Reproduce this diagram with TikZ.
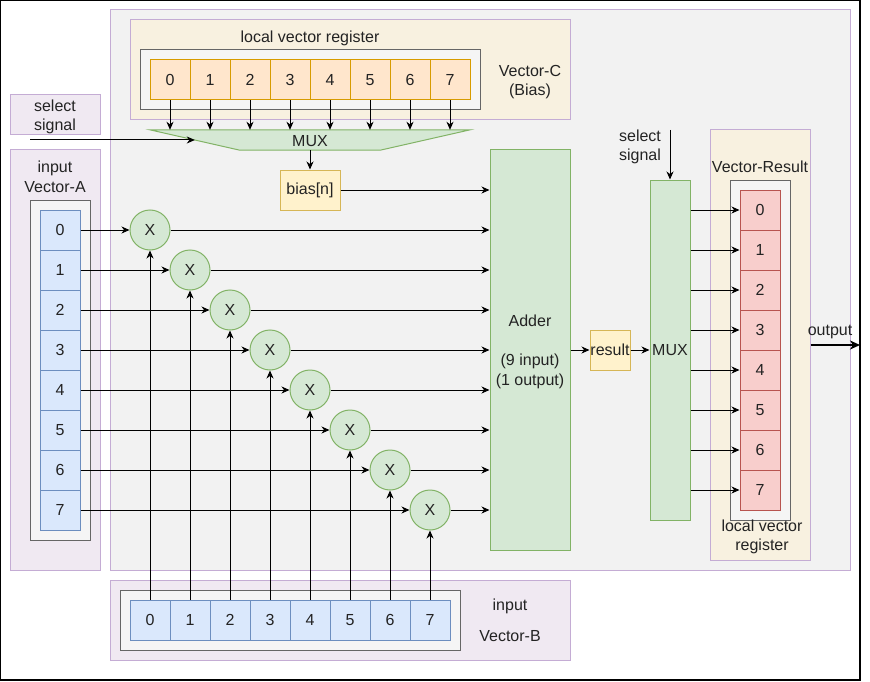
\documentclass[tikz,border=0pt]{standalone}
\usepackage{fontspec}
\setmainfont{Liberation Sans}
\usetikzlibrary{arrows.meta}
\definecolor{txt}{RGB}{35,35,35}
\definecolor{contfill}{RGB}{242,242,242}
\definecolor{purp}{RGB}{196,172,212}
\definecolor{purpfill}{RGB}{240,233,242}
\definecolor{cream}{RGB}{248,241,224}
\definecolor{greyfill}{RGB}{245,245,245}
\definecolor{greyline}{RGB}{102,102,102}
\definecolor{orfill}{RGB}{255,230,204}
\definecolor{orline}{RGB}{215,155,0}
\definecolor{bluefill}{RGB}{218,232,252}
\definecolor{blueline}{RGB}{108,142,191}
\definecolor{grfill}{RGB}{213,232,212}
\definecolor{grline}{RGB}{130,179,102}
\definecolor{yelfill}{RGB}{255,242,204}
\definecolor{yelline}{RGB}{214,182,86}
\definecolor{redfill}{RGB}{248,206,204}
\definecolor{redline}{RGB}{184,84,80}
\tikzset{
  every node/.style={font=\fontsize{16}{19.5}\selectfont, text=txt, inner sep=0pt},
  box/.style={rectangle, line width=1pt},
  purpbox/.style={box, draw=purp, fill=purpfill},
  creambox/.style={box, draw=purp, fill=cream},
  greybox/.style={box, draw=greyline, fill=greyfill},
  ocell/.style={box, draw=orline, fill=orfill, minimum width=40, minimum height=40},
  bcell/.style={box, draw=blueline, fill=bluefill, minimum width=40, minimum height=40},
  rcell/.style={box, draw=redline, fill=redfill, minimum width=40, minimum height=40},
  greenbox/.style={box, draw=grline, fill=grfill},
  yelbox/.style={box, draw=yelline, fill=yelfill},
  mul/.style={circle, draw=grline, fill=grfill, line width=1pt, minimum size=40},
  arr/.style={line width=1pt, -{Stealth[length=8pt,width=7pt,inset=2.5pt]}},
}
\begin{document}
\begin{tikzpicture}[x=1pt,y=-1pt]
\useasboundingbox (0,0) rectangle (870,682);
\draw[line width=2pt] (0,0) rectangle (860,680);
% main container
\node[box, draw=purp, fill=contfill, minimum width=740, minimum height=560] (main) at (480,290) {};
% select signal (left)
\node[purpbox, minimum width=90, minimum height=40] (selbox) at (55,115) {};
\node[align=center] (sellab) at (55,117) {select\\signal};
% Vector-C
\node[creambox, minimum width=440, minimum height=100] (vc) at (350,70) {};
\node[greybox, minimum width=340, minimum height=60] (vcin) at (310,80) {};
\node (lvr) at (310,38) {local vector register};
\node[align=center] (vclab) at (530,82) {Vector-C\\(Bias)};
\foreach \i in {0,...,7} {
  \node[ocell] (c\i) at ({170+40*\i},80) {\i};
}
% MUX trapezoid
\node[minimum width=320, minimum height=20] (mux) at (310,140) {};
\fill[grfill] (mux.north west) -- (mux.north east) -- ([xshift=-90]mux.south east) -- ([xshift=90]mux.south west) -- cycle;
\draw[grline, line width=1pt] (mux.north west) -- (mux.north east) -- ([xshift=-90]mux.south east) -- ([xshift=90]mux.south west) -- cycle;
\node (muxlab) at (310,141) {MUX};
% bias
\node[yelbox, minimum width=60, minimum height=40] (bias) at (310,190) {bias[n]};
% Vector-A
\node[purpbox, minimum width=90, minimum height=420] (va) at (55,360) {};
\node[align=center] (valab) at (55,177) {input\\Vector-A};
\node[greybox, minimum width=60, minimum height=340] (vain) at (60,370) {};
\foreach \i in {0,...,7} {
  \node[bcell] (a\i) at (60,{230+40*\i}) {\i};
}
% Vector-B
\node[purpbox, minimum width=460, minimum height=80] (vb) at (340,620) {};
\node[greybox, minimum width=340, minimum height=60] (vbin) at (290,620) {};
\foreach \i in {0,...,7} {
  \node[bcell] (b\i) at ({150+40*\i},620) {\i};
}
\node (vbl1) at (510,606) {input};
\node (vbl2) at (510,636) {Vector-B};
% Adder
\node[greenbox, minimum width=80, minimum height=400] (adder) at (530,350) {};
\node[align=center] (addlab) at (530,352) {Adder\\[19.5pt](9 input)\\(1 output)};
% result
\node[yelbox, minimum width=40, minimum height=40] (result) at (610,350) {result};
% MUX2
\node[greenbox, minimum width=40, minimum height=340] (mux2) at (670,350) {MUX};
\node[align=center] (sel2lab) at (640,147) {select\\signal};
\coordinate (sel2) at (670,130);
% Vector-Result
\node[creambox, minimum width=100, minimum height=430] (vr) at (760,345) {};
\node (vrlab) at (760,167) {Vector-Result};
\node[greybox, minimum width=60, minimum height=340] (vrin) at (760,350) {};
\foreach \i in {0,...,7} {
  \node[rcell] (r\i) at (760,{210+40*\i}) {\i};
}
\node[align=center] (vrlab2) at (762,537) {local vector\\register};
% output
\coordinate (outend) at (860,345);
\node (outlab) at (830,332) {output};
\draw[line width=2pt, -{Stealth[length=10pt,width=9pt,inset=3pt]}] (vr.east) -- (outend);
% multipliers
\foreach \i in {0,...,7} {
  \node[mul] (m\i) at ({150+40*\i},{230+40*\i}) {X};
}
% connectors
\coordinate (sel1) at (30,140);
\draw[arr] (sel1) -- ([xshift=45]mux.west);
\foreach \i in {0,...,7} {
  \draw[arr] (c\i.south) -- (c\i.south |- mux.north);
  \draw[arr] (a\i.east) -- (m\i.west);
  \draw[arr] (m\i.east) -- (m\i.east -| adder.west);
  \draw[arr] (b\i.north) -- (m\i.south);
  \draw[arr] (r\i.west -| mux2.east) -- (r\i.west);
}
\draw[arr] (mux.south) -- (bias.north);
\draw[arr] (bias.east) -- (bias.east -| adder.west);
\draw[arr] (adder.east) -- (result.west);
\draw[arr] (result.east) -- (mux2.west);
\draw[arr] (sel2) -- (mux2.north);
\end{tikzpicture}
\end{document}
